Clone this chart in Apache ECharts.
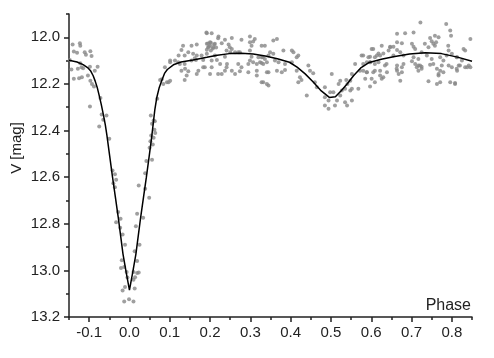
<!DOCTYPE html>
<html><head><meta charset="utf-8">
<script src="https://cdn.jsdelivr.net/npm/echarts@6/dist/echarts.min.js"></script>
<style>html,body{margin:0;padding:0;background:#fff}#c{width:494px;height:358px}</style>
</head><body><div id="c"></div>
<script>
// Observations, segment before primary eclipse
const preP = [-0.141,-0.123,-0.122,-0.138,-0.130,-0.111,-0.108,-0.097,-0.094,-0.148,-0.122,-0.128,-0.115,-0.098,-0.079,-0.138,-0.125,-0.118,-0.103,-0.097,-0.093,-0.088,-0.086,-0.098,-0.072,-0.069,-0.065,-0.057,-0.075,-0.050,-0.144,-0.119];
const preM = [12.031,12.026,12.036,12.061,12.066,12.064,12.075,12.060,12.080,12.097,12.111,12.135,12.133,12.126,12.126,12.178,12.176,12.171,12.164,12.186,12.200,12.211,12.143,12.297,12.260,12.331,12.354,12.336,12.383,12.435,12.138,12.128];
// Primary eclipse, ingress side
const priInP = [-0.042,-0.036,-0.033,-0.040,-0.036,-0.028,-0.022,-0.033,-0.023,-0.017,-0.011,-0.019,-0.021,-0.013,-0.007,-0.005,-0.011,-0.017,-0.013,-0.001,0.010];
const priInM = [12.571,12.588,12.611,12.626,12.643,12.750,12.778,12.793,12.817,12.846,12.890,12.957,12.990,12.986,13.007,13.031,13.071,13.086,13.133,13.124,13.133];
// Primary eclipse, egress side
const priOutP = [0.013,0.010,0.014,0.019,0.023,0.010,0.019,0.013,0.025,0.016,0.034,0.019,0.049,0.039,0.023,0.039,0.056,0.042,0.050,0.058,0.052,0.060,0.054,0.064,0.062,0.056,0.063,0.053,0.060,0.076,0.080,0.084,0.097,0.101,0.069];
const priOutM = [13.078,13.040,13.029,13.011,13.009,13.007,12.960,12.918,12.890,12.811,12.774,12.757,12.688,12.650,12.636,12.583,12.525,12.531,12.474,12.460,12.446,12.431,12.421,12.411,12.397,12.371,12.360,12.336,12.357,12.183,12.180,12.200,12.193,12.100,12.264];
// First maximum
const max1P = [0.192,0.204,0.221,0.237,0.254,0.278,0.299,0.311,0.299,0.303,0.133,0.154,0.167,0.192,0.200,0.208,0.212,0.195,0.200,0.229,0.246,0.254,0.250,0.262,0.274,0.129,0.146,0.158,0.167,0.179,0.137,0.122,0.192,0.212,0.237,0.217,0.204,0.183,0.165,0.154,0.113,0.101,0.125,0.137,0.225,0.242,0.270,0.299,0.307,0.316,0.324,0.332,0.341,0.303,0.320,0.331,0.187,0.204,0.129,0.146,0.171,0.237,0.254,0.274,0.316,0.341,0.088,0.137,0.167,0.200,0.229,0.262,0.328,0.341,0.093,0.101];
const max1M = [11.983,11.983,11.997,12.011,12.003,12.011,11.997,12.007,12.021,12.036,12.036,12.036,12.031,12.028,12.036,12.043,12.028,12.044,12.021,12.026,12.031,12.050,12.064,12.064,12.064,12.054,12.064,12.071,12.078,12.078,12.078,12.078,12.071,12.078,12.083,12.097,12.100,12.097,12.097,12.100,12.100,12.107,12.114,12.114,12.114,12.114,12.114,12.100,12.107,12.114,12.107,12.114,12.107,12.083,12.086,12.086,12.129,12.129,12.143,12.146,12.143,12.143,12.143,12.146,12.143,12.150,12.129,12.183,12.157,12.157,12.157,12.157,12.193,12.200,12.193,12.186];
const max1bP = [0.195,0.202,0.210,0.197,0.207,0.215,0.192,0.202,0.162,0.121,0.138,0.183,0.241,0.278,0.295,0.328,0.142,0.220,0.295,0.316,0.191,0.220,0.249,0.241,0.270,0.299,0.307];
const max1bM = [12.027,12.023,12.031,12.040,12.048,12.044,12.053,12.057,12.090,12.107,12.135,12.129,12.129,12.129,12.114,12.110,12.164,12.157,12.150,12.164,11.979,12.004,12.043,12.057,12.064,12.057,12.018];
// Secondary eclipse
const secP = [0.328,0.336,0.357,0.366,0.349,0.357,0.382,0.403,0.407,0.328,0.336,0.345,0.361,0.370,0.386,0.403,0.415,0.419,0.345,0.366,0.378,0.386,0.332,0.345,0.415,0.423,0.427,0.419,0.444,0.448,0.456,0.440,0.460,0.465,0.485,0.502,0.498,0.506,0.485,0.494,0.485,0.494,0.510,0.515,0.523,0.519,0.527,0.523,0.538,0.541,0.535,0.548,0.552,0.548,0.552,0.535,0.540,0.552,0.560,0.572,0.576,0.580,0.568,0.589,0.589];
const secM = [12.036,12.036,12.014,12.007,12.064,12.071,12.057,12.057,12.064,12.086,12.093,12.078,12.100,12.107,12.114,12.107,12.086,12.078,12.150,12.143,12.150,12.140,12.193,12.207,12.143,12.171,12.183,12.193,12.121,12.143,12.154,12.250,12.193,12.214,12.214,12.157,12.236,12.236,12.257,12.271,12.293,12.307,12.293,12.271,12.186,12.200,12.228,12.250,12.183,12.200,12.221,12.228,12.221,12.186,12.157,12.279,12.293,12.271,12.114,12.143,12.078,12.143,12.221,12.107,12.150];
// Second maximum
const max2P = [0.722,0.786,0.664,0.684,0.705,0.746,0.758,0.767,0.796,0.798,0.846,0.750,0.761,0.758,0.733,0.701,0.705,0.664,0.676,0.647,0.655,0.626,0.605,0.618,0.630,0.643,0.664,0.672,0.580,0.597,0.609,0.622,0.655,0.680,0.705,0.717,0.738,0.750,0.771,0.779,0.792,0.800,0.813,0.825,0.833,0.842,0.580,0.597,0.609,0.634,0.664,0.676,0.701,0.709,0.717,0.725,0.754,0.775,0.792,0.800,0.817,0.833,0.589,0.605,0.622,0.639,0.664,0.668,0.676,0.717,0.725,0.771,0.779,0.813,0.838,0.846,0.601,0.626,0.609,0.597,0.742,0.767,0.771,0.763,0.796,0.808];
const max2M = [11.936,11.943,11.985,11.983,11.979,12.003,11.993,12.000,11.971,11.993,12.007,12.017,12.021,12.036,12.028,12.028,12.040,12.021,12.026,12.040,12.040,12.036,12.050,12.069,12.069,12.057,12.054,12.064,12.078,12.083,12.086,12.078,12.078,12.078,12.086,12.093,12.078,12.093,12.086,12.100,12.057,12.071,12.086,12.100,12.057,12.121,12.114,12.107,12.114,12.121,12.121,12.129,12.103,12.114,12.121,12.126,12.114,12.121,12.121,12.129,12.121,12.129,12.150,12.150,12.143,12.150,12.143,12.157,12.150,12.143,12.135,12.143,12.150,12.143,12.129,12.129,12.178,12.178,12.193,12.211,12.189,12.157,12.193,12.200,12.193,12.196];
const max2bP = [0.601,0.647,0.709,0.742,0.754,0.791,0.829,0.593,0.614,0.725,0.787,0.812,0.597,0.618,0.638,0.680,0.721,0.746,0.820,0.609,0.663,0.713,0.763,0.812,0.585,0.622,0.630,0.672,0.767,0.808];
const max2bM = [12.050,12.043,12.050,12.043,12.028,12.036,12.050,12.086,12.078,12.064,12.078,12.086,12.107,12.107,12.114,12.114,12.121,12.118,12.121,12.143,12.135,12.129,12.135,12.135,12.178,12.164,12.171,12.186,12.164,12.200];
// Model light curve
const modelPhase = [-0.150,-0.130,-0.115,-0.104,-0.096,-0.090,-0.085,-0.080,-0.075,-0.070,-0.065,-0.060,-0.056,-0.049,-0.042,-0.035,-0.028,-0.022,-0.016,-0.008,0.000,0.008,0.016,0.022,0.028,0.035,0.042,0.049,0.055,0.059,0.063,0.068,0.074,0.080,0.087,0.094,0.109,0.128,0.158,0.192,0.218,0.248,0.277,0.307,0.337,0.367,0.397,0.416,0.436,0.456,0.476,0.496,0.511,0.526,0.541,0.556,0.575,0.595,0.625,0.655,0.695,0.734,0.774,0.814,0.850];
const modelMag = [12.098,12.106,12.117,12.130,12.145,12.165,12.188,12.215,12.250,12.288,12.330,12.375,12.420,12.510,12.600,12.685,12.770,12.850,12.930,13.010,13.085,13.010,12.930,12.850,12.770,12.685,12.600,12.510,12.430,12.370,12.310,12.257,12.215,12.186,12.155,12.138,12.118,12.106,12.097,12.086,12.077,12.070,12.068,12.072,12.080,12.092,12.107,12.128,12.157,12.192,12.230,12.258,12.255,12.228,12.198,12.165,12.130,12.108,12.094,12.083,12.072,12.066,12.070,12.085,12.103];
// Tick values
const xMajorTicks = [-0.1,0.0,0.1,0.2,0.3,0.4,0.5,0.6,0.7,0.8];
const xMinorTicks = [-0.15,-0.05,0.05,0.15,0.25,0.35,0.45,0.55,0.65,0.75,0.85];
const yMajorTicks = [12.0,12.2,12.4,12.6,12.8,13.0,13.2];
const yMinorTicks = [11.9,12.1,12.3,12.5,12.7,12.9,13.1];

function zip(a, b) { return a.map((v, i) => [v, b[i]]); }
const obs = [].concat(zip(preP, preM), zip(priInP, priInM), zip(priOutP, priOutM),
  zip(max1P, max1M), zip(max1bP, max1bM), zip(secP, secM), zip(max2P, max2M), zip(max2bP, max2bM));
const model = zip(modelPhase, modelMag);

const font = "'Liberation Sans', Arial, sans-serif";
const ink = '#222';
const chart = echarts.init(document.getElementById('c'));
const xBase = {type:'value', min:-0.15, max:0.85, position:'bottom', splitLine:{show:false}};
const yBase = {type:'value', min:11.9, max:13.2, inverse:true, position:'left', splitLine:{show:false}};
chart.setOption({
  animation:false,
  backgroundColor:'#fff',
  grid:{left:69, right:22, top:14, bottom:41},
  xAxis:[
    Object.assign({}, xBase, {
      axisLine:{show:true, onZero:false, lineStyle:{color:ink, width:1.5}},
      axisTick:{show:true, length:5, customValues:xMajorTicks, lineStyle:{color:ink, width:1.5}},
      axisLabel:{customValues:xMajorTicks, formatter:v=>v.toFixed(1), color:ink, fontSize:15, fontFamily:font, margin:8}
    }),
    Object.assign({}, xBase, {
      axisLine:{show:false, onZero:false},
      axisTick:{show:true, length:3, customValues:xMinorTicks, lineStyle:{color:ink, width:1.5}},
      axisLabel:{show:false}
    })
  ],
  yAxis:[
    Object.assign({}, yBase, {
      axisLine:{show:true, onZero:false, lineStyle:{color:ink, width:1.5}},
      axisTick:{show:true, length:5, customValues:yMajorTicks, lineStyle:{color:ink, width:1.5}},
      axisLabel:{customValues:yMajorTicks, formatter:v=>v.toFixed(1), color:ink, fontSize:15, fontFamily:font, margin:9}
    }),
    Object.assign({}, yBase, {
      axisLine:{show:false, onZero:false},
      axisTick:{show:true, length:3, customValues:yMinorTicks, lineStyle:{color:ink, width:1.5}},
      axisLabel:{show:false}
    })
  ],
  series:[
    {type:'scatter', xAxisIndex:0, yAxisIndex:0, data:obs, symbol:'circle', symbolSize:4,
     itemStyle:{color:'#878787'}, z:2},
    {type:'line', xAxisIndex:0, yAxisIndex:0, data:model, symbol:'none', smooth:false,
     lineStyle:{color:'#000', width:1.5}, z:3}
  ],
  graphic:[
    {type:'text', x:17, y:148, rotation:Math.PI/2,
     style:{text:'V [mag]', fontSize:15, fontFamily:font, fill:ink, align:'center', verticalAlign:'middle'}},
    {type:'text', x:471, y:306,
     style:{text:'Phase', fontSize:16, fontFamily:font, fill:ink, align:'right', verticalAlign:'middle'}}
  ]
});
</script>
</body></html>
